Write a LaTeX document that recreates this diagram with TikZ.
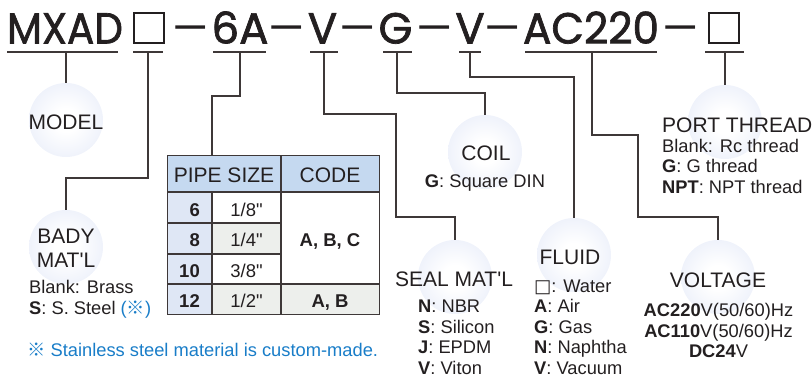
\documentclass[tikz,border=0pt]{standalone}
\usepackage{fontspec}
\setmainfont{Liberation Sans}[Ligatures=TeXOff]
\newfontfamily\titlefont{Poppins}[FakeBold=1.6]
\newfontfamily\dashfont{Poppins}
\newfontfamily\symfont{DejaVu Sans}
\newfontfamily\cjkfont{Noto Sans CJK SC}
\usetikzlibrary{calc}
\definecolor{ink}{RGB}{35,31,32}
\definecolor{linec}{RGB}{62,56,56}
\definecolor{ballc}{RGB}{216,224,245}
\definecolor{hdr}{RGB}{197,217,240}
\definecolor{colone}{RGB}{223,231,245}
\definecolor{grayc}{RGB}{237,239,236}
\definecolor{noteblue}{RGB}{25,125,200}
\pgfdeclareradialshading{ballshade}{\pgfpoint{0bp}{0bp}}{color(0bp)=(white); color(8bp)=(white); color(50bp)=(ballc); color(52bp)=(ballc)}
\newcommand{\refmark}{{\cjkfont ※}}
\begin{document}
\begin{tikzpicture}[x=1pt,y=-1pt,
  lbl/.style={inner sep=0pt, font=\fontsize{21}{24}\selectfont, text=ink},
  itm/.style={inner sep=0pt, font=\fontsize{18.3}{21}\selectfont, text=ink},
  tbt/.style={inner sep=0pt, font=\fontsize{18.5}{21}\selectfont, text=ink},
  tbb/.style={inner sep=0pt, font=\fontsize{18.5}{21}\selectfont\bfseries, text=ink},
  ttl/.style={inner sep=0pt, font=\titlefont\fontsize{43.5}{48}\selectfont, text=ink, anchor=base},
  tdash/.style={inner sep=0pt, font=\dashfont\fontsize{43.5}{48}\selectfont, text=ink, anchor=base, xscale=1.3},
  tbox/.style={draw=ink, line width=1.7pt, minimum size=30pt, inner sep=0pt},
  ul/.style={line width=1.6pt, draw=linec},
  conn/.style={line width=1.3pt, draw=linec},
  grid/.style={line width=1.3pt, draw=linec},
  ball/.style={circle, minimum size=74pt, inner sep=0pt, shade, shading=ballshade}]
\useasboundingbox (0,0) rectangle (812,381);

% ---------- title ----------
\node[ttl, xscale=0.93] (tMXAD) at (65,43.5) {MXAD};
\node[tbox] (tbox1) at (149,28) {};
\node[tdash] (td1) at (191,43.5) {–};
\node[ttl] (t6A) at (240,43.5) {6A};
\node[tdash] (td2) at (287,43.5) {–};
\node[ttl] (tV1) at (322.5,43.5) {V};
\node[tdash] (td3) at (357.5,43.5) {–};
\node[ttl] (tG) at (395.5,43.5) {G};
\node[tdash] (td4) at (434.5,43.5) {–};
\node[ttl] (tV2) at (470,43.5) {V};
\node[tdash] (td5) at (502.5,43.5) {–};
\node[ttl, xscale=0.97] (tAC) at (591,43.5) {AC220};
\node[tdash] (td6) at (681,43.5) {–};
\node[tbox] (tbox2) at (724,28) {};

% underlines
\draw[ul] (7,52) -- (118,52);
\draw[ul] (133,52) -- (163,52);
\draw[ul] (213,52) -- (266,52);
\draw[ul] (310,52) -- (338,52);
\draw[ul] (383,52) -- (412,52);
\draw[ul] (459,52) -- (481,52);
\draw[ul] (525,52) -- (657,52);
\draw[ul] (705,52) -- (744,52);
\coordinate (kM) at (66,52);
\coordinate (kB) at (148,52);
\coordinate (k6) at (240,52);
\coordinate (kV1) at (324,52);
\coordinate (kG) at (397,52);
\coordinate (kV2) at (470,52);
\coordinate (kAC) at (592,52);
\coordinate (kP) at (725,52);

% ---------- circles ----------
\node[ball] (model) at (66,120) {};
\node[ball] (bady) at (66,247) {};
\node[ball] (coil) at (485,152) {};
\node[ball] (seal) at (455,277) {};
\node[ball] (fluid) at (574,255) {};
\node[ball] (volt) at (718,277) {};
\node[ball] (port) at (725,122) {};

% ---------- table ----------
\fill[hdr] (167,155) rectangle (379,192);
\fill[colone] (167,192) rectangle (212,314);
\fill[white] (212,192) rectangle (379,284);
\fill[grayc] (212,223) rectangle (281,254);
\fill[grayc] (212,284) rectangle (379,314);
\draw[grid] (167,192) -- (379,192);
\draw[grid] (167,223) -- (281,223);
\draw[grid] (167,254) -- (281,254);
\draw[grid] (167,284) -- (379,284);
\draw[grid] (212,192) -- (212,314);
\draw[grid] (281,155) -- (281,314);
\node[draw=linec, line width=1.3pt, minimum width=212pt, minimum height=159pt, inner sep=0pt, anchor=north west] (tbl) at (167,155) {};
\node[lbl, anchor=base] (hps) at (224,182.7) {PIPE SIZE};
\node[lbl, anchor=base] (hcode) at (330,182.7) {CODE};
\node[tbb, anchor=base east] (n6) at (200,216) {6};
\node[tbb, anchor=base east] (n8) at (200,246.7) {8};
\node[tbb, anchor=base east] (n10) at (200,277) {10};
\node[tbb, anchor=base east] (n12) at (200,307) {12};
\node[tbt, anchor=base] (s6) at (246.5,216) {1/8"};
\node[tbt, anchor=base] (s8) at (246.5,246.7) {1/4"};
\node[tbt, anchor=base] (s10) at (246.5,277) {3/8"};
\node[tbt, anchor=base] (s12) at (246.5,307) {1/2"};
\node[tbb, anchor=base] (cabc) at (330,246.5) {A, B, C};
\node[tbb, anchor=base] (cab) at (330,307) {A, B};

% ---------- connectors ----------
\draw[conn] (kM) -- (model.north);
\draw[conn] (kB) -- ++(0,126) -| (bady.north);
\draw[conn] (k6) -- ++(0,44) -| ($(tbl.north west)+(45,0)$);
\draw[conn] (kV1) -- ++(0,62) -- ++(72,0) -- ++(0,103) -| (seal.north);
\draw[conn] (kG) -- ++(0,41) -| (coil.north);
\draw[conn] (kV2) -- ++(0,25) -| (fluid.north);
\draw[conn] (kAC) -- ++(0,83) -- ++(46,0) -- ++(0,82) -| (volt.north);
\draw[conn] (kP) -- (port.north);

% ---------- labels ----------
\node[lbl, anchor=base] (lmodel) at (66,129.5) {MODEL};
\node[lbl, anchor=base] (lbady1) at (66,243) {BADY};
\node[lbl, anchor=base] (lbady2) at (66,267) {MAT'L};
\node[itm, anchor=base west] (b1) at (29,293) {Blank: Brass};
\node[itm, anchor=base west] (b2) at (29,314) {\textbf{S}: S. Steel \textcolor{noteblue}{(\refmark)}};

\node[lbl, anchor=base] (lcoil) at (486,160.5) {COIL};
\node[itm, anchor=base] (c1) at (485,187) {\textbf{G}: Square DIN};

\node[lbl, anchor=base] (lseal) at (454,286) {SEAL MAT'L};
\node[itm, anchor=base west] (e1) at (418,312) {\textbf{N}: NBR};
\node[itm, anchor=base west] (e2) at (418,333) {\textbf{S}: Silicon};
\node[itm, anchor=base west] (e3) at (418,353.5) {\textbf{J}: EPDM};
\node[itm, anchor=base west] (e4) at (418,374) {\textbf{V}: Viton};

\node[lbl, anchor=base] (lfluid) at (570,264) {FLUID};
\node[itm, anchor=base west] (f1) at (534,292) {{\symfont □}: Water};
\node[itm, anchor=base west] (f2) at (534,312) {\textbf{A}: Air};
\node[itm, anchor=base west] (f3) at (534,333) {\textbf{G}: Gas};
\node[itm, anchor=base west] (f4) at (534,353.5) {\textbf{N}: Naphtha};
\node[itm, anchor=base west] (f5) at (534,374) {\textbf{V}: Vacuum};

\node[lbl, anchor=base] (lvolt) at (718,287) {VOLTAGE};
\node[itm, anchor=base] (v1) at (718.5,316) {\textbf{AC220}V(50/60)Hz};
\node[itm, anchor=base] (v2) at (718.5,337) {\textbf{AC110}V(50/60)Hz};
\node[itm, anchor=base] (v3) at (718.5,357) {\textbf{DC24}V};

\node[lbl, anchor=base west] (lport) at (662,132) {PORT THREAD};
\node[itm, anchor=base west] (p1) at (662,152) {Blank: Rc thread};
\node[itm, anchor=base west] (p2) at (662,172.5) {\textbf{G}: G thread};
\node[itm, anchor=base west] (p3) at (662,193.5) {\textbf{NPT}: NPT thread};

\node[itm, anchor=base west, text=noteblue] (note) at (27,356) {\refmark\ Stainless steel material is custom-made.};
\end{tikzpicture}
\end{document}
